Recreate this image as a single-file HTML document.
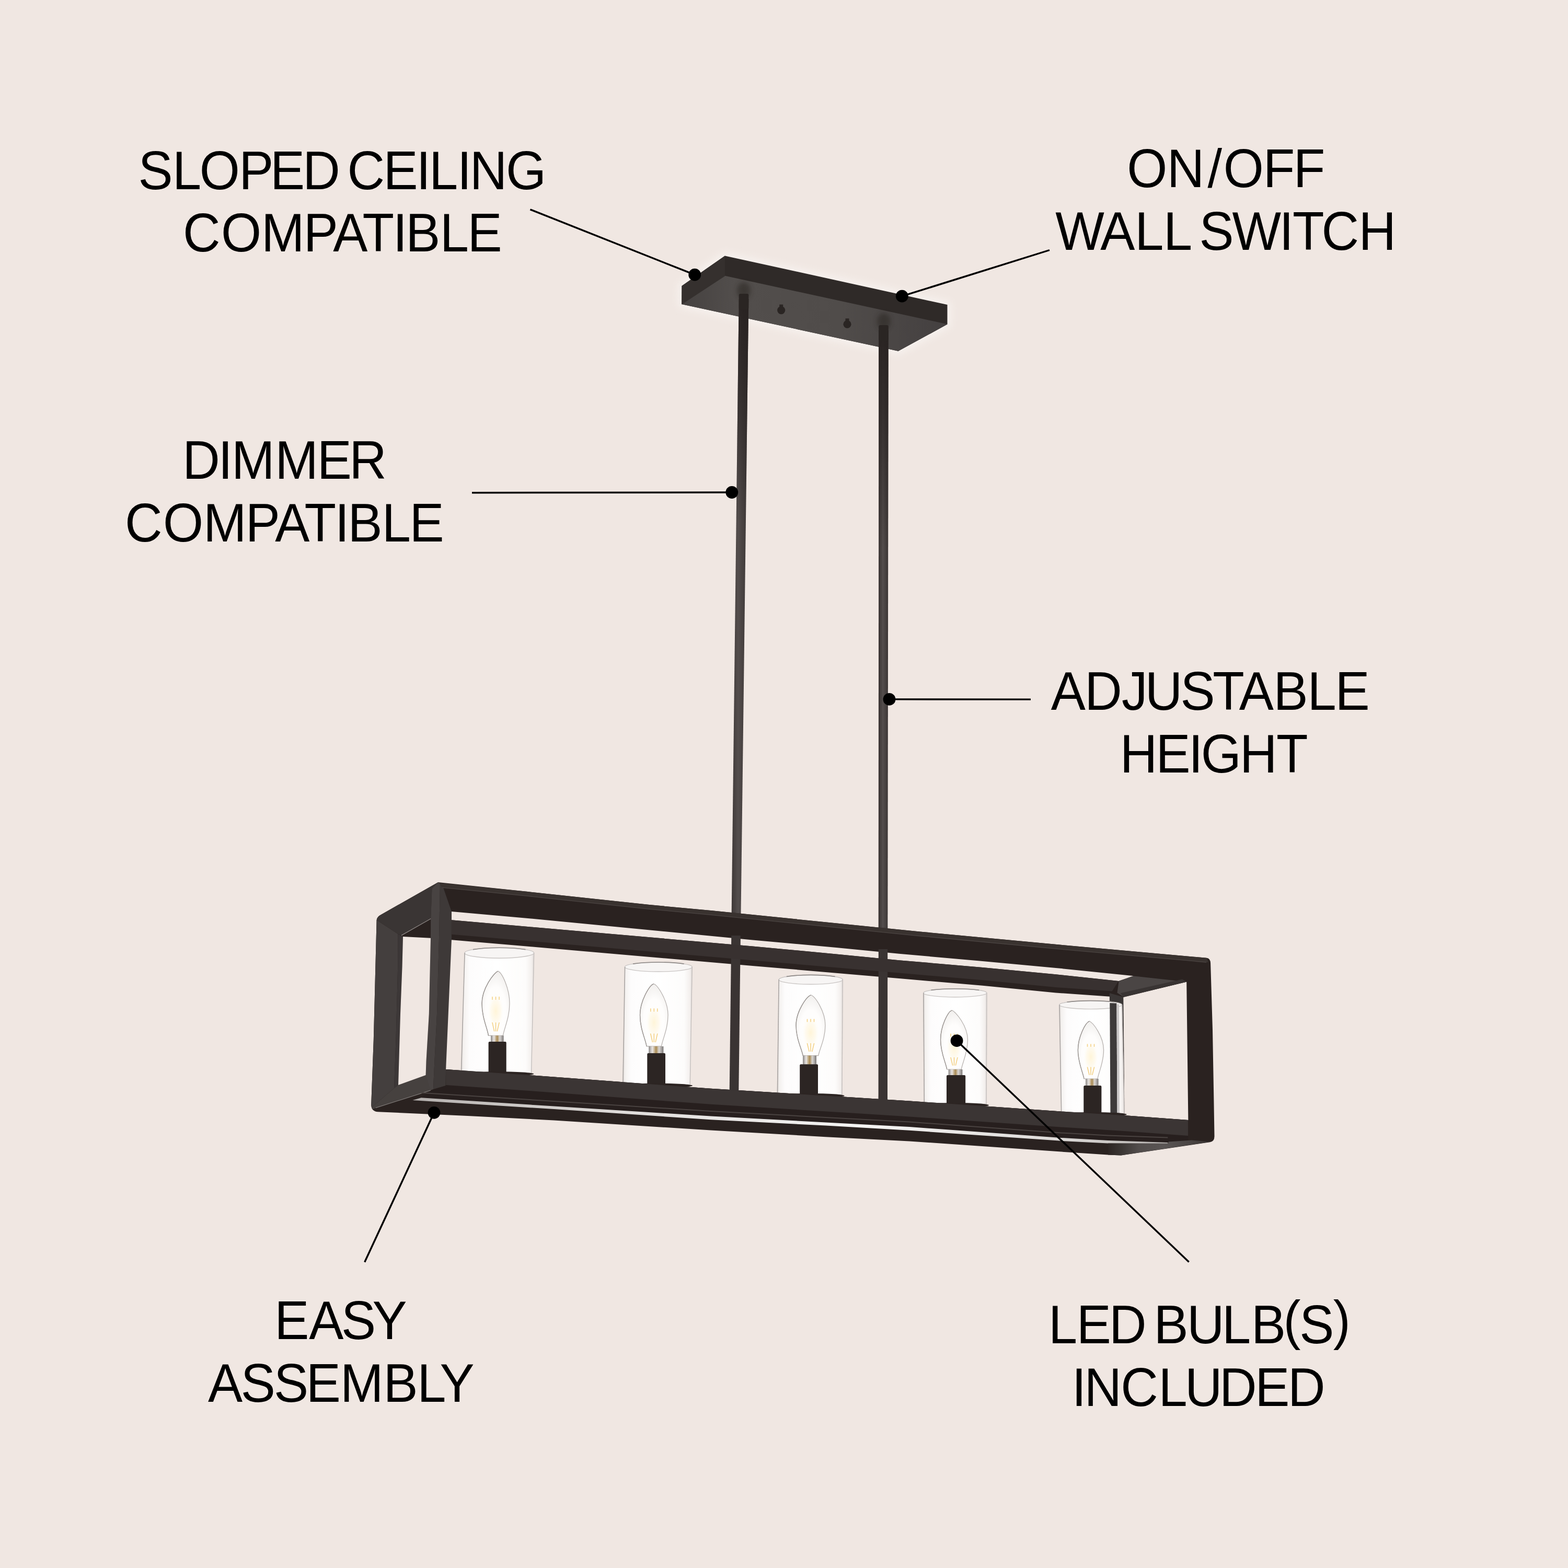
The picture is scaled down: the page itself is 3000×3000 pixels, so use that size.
<!DOCTYPE html>
<html lang="en">
<head>
<meta charset="utf-8">
<title>Linear chandelier features</title>
<style>
html,body{margin:0;padding:0;background:#f0e7e2;}
body{width:3000px;height:3000px;overflow:hidden;}
svg{display:block;}
</style>
</head>
<body>
<svg width="3000" height="3000" viewBox="0 0 3000 3000">
<defs>
<linearGradient id="gl" x1="0" y1="0" x2="1" y2="0">
<stop offset="0" stop-color="#dcd6d3"/><stop offset="0.035" stop-color="#f4f1ef"/><stop offset="0.12" stop-color="#fdfcfc"/>
<stop offset="0.5" stop-color="#ffffff"/><stop offset="0.88" stop-color="#fdfcfb"/><stop offset="0.965" stop-color="#f3efed"/><stop offset="1" stop-color="#dad4d1"/>
</linearGradient>
<radialGradient id="glow" cx="0.5" cy="0.62" r="0.62">
<stop offset="0" stop-color="#ffffff"/><stop offset="0.6" stop-color="#fefdfc"/><stop offset="1" stop-color="#f1efed"/>
</radialGradient>
<radialGradient id="warm" cx="0.5" cy="0.5" r="0.5">
<stop offset="0" stop-color="#fff4d6" stop-opacity="0.95"/><stop offset="0.55" stop-color="#fff7e3" stop-opacity="0.6"/><stop offset="1" stop-color="#ffffff" stop-opacity="0"/>
</radialGradient>
<linearGradient id="collar" x1="0" y1="0" x2="1" y2="0">
<stop offset="0" stop-color="#8c8886"/><stop offset="0.25" stop-color="#e9e6e4"/><stop offset="0.5" stop-color="#a98a52"/><stop offset="0.7" stop-color="#d9d6d4"/><stop offset="1" stop-color="#7d7977"/>
</linearGradient>
<linearGradient id="rod" x1="0" y1="0" x2="1" y2="0">
<stop offset="0" stop-color="#373130"/><stop offset="0.45" stop-color="#544e4d"/><stop offset="1" stop-color="#3a3433"/>
</linearGradient>
<linearGradient id="under" gradientUnits="userSpaceOnUse" x1="2120" y1="0" x2="2316" y2="0">
<stop offset="0" stop-color="#2c2523"/><stop offset="0.13" stop-color="#3b3634"/><stop offset="0.3" stop-color="#524d4c"/><stop offset="0.55" stop-color="#5a5554"/><stop offset="0.8" stop-color="#4a4544"/><stop offset="1" stop-color="#3a3533"/>
</linearGradient>
<linearGradient id="strip" gradientUnits="userSpaceOnUse" x1="790" y1="0" x2="2235" y2="0">
<stop offset="0" stop-color="#b3afad"/><stop offset="0.1" stop-color="#c6c2c0"/><stop offset="0.3" stop-color="#e2dfdd"/><stop offset="0.6" stop-color="#f5f4f3"/><stop offset="0.85" stop-color="#dedbd9"/><stop offset="1" stop-color="#b5b1af"/>
</linearGradient>
<linearGradient id="cunder" gradientUnits="userSpaceOnUse" x1="1304" y1="0" x2="1812" y2="0">
<stop offset="0" stop-color="#454140"/><stop offset="0.2" stop-color="#524e4c"/><stop offset="0.6" stop-color="#504c4a"/><stop offset="1" stop-color="#444040"/>
</linearGradient>
<filter id="halo" x="-20%" y="-50%" width="140%" height="200%"><feGaussianBlur stdDeviation="7"/></filter>
<filter id="soft" x="-50%" y="-50%" width="200%" height="200%"><feGaussianBlur stdDeviation="4"/></filter>
<linearGradient id="rodtop" gradientUnits="userSpaceOnUse" x1="0" y1="572" x2="0" y2="1000">
<stop offset="0" stop-color="#272120" stop-opacity="0.95"/><stop offset="0.35" stop-color="#272120" stop-opacity="0.7"/><stop offset="1" stop-color="#272120" stop-opacity="0"/>
</linearGradient>
<linearGradient id="rodtop2" gradientUnits="userSpaceOnUse" x1="0" y1="632" x2="0" y2="1050">
<stop offset="0" stop-color="#272120" stop-opacity="0.95"/><stop offset="0.35" stop-color="#272120" stop-opacity="0.7"/><stop offset="1" stop-color="#272120" stop-opacity="0"/>
</linearGradient>
</defs>
<rect x="0" y="0" width="3000" height="3000" fill="#f0e7e2"/>
<g id="canopy">
<polygon points="1304.5,547.0 1387.0,489.4 1812.5,583.1 1812.5,620.6 1718.6,671.8 1304.2,582.0" fill="#fbf8f6" stroke="#fbf8f6" stroke-width="14" stroke-linejoin="round" filter="url(#halo)" opacity="0.6"/>
<polygon points="1304.5,547.0 1387.0,489.4 1812.5,583.1 1812.5,620.6 1718.6,671.8 1304.2,582.0" fill="#2f2a28" />
<polygon points="1304.2,582.0 1386.3,527.5 1812.5,620.3 1718.6,671.8" fill="url(#cunder)" />
<polygon points="1304.5,547.0 1387.0,489.4 1387.0,528.2 1304.2,582.6" fill="#35302e" />
<ellipse cx="1423" cy="556" rx="13" ry="16" fill="#2b2624" opacity="0.55" filter="url(#soft)"/>
<ellipse cx="1691" cy="615" rx="13" ry="16" fill="#2b2624" opacity="0.55" filter="url(#soft)"/>
<rect x="1491.2" y="582.6" width="7" height="8" fill="#2b2624"/>
<circle cx="1494.7" cy="593.6" r="7.6" fill="#2a2523"/>
<rect x="1617.5" y="609.3" width="7" height="8" fill="#2b2624"/>
<circle cx="1621.0" cy="620.3" r="7.6" fill="#2a2523"/>
</g>
<g id="rods">
<polygon points="1413.7,572.0 1432.3,572.0 1413.2,2090.0 1395.6,2090.0" fill="url(#rod)" />
<polygon points="1681.3,632.0 1699.7,632.0 1698.0,2106.0 1680.6,2106.0" fill="url(#rod)" />
<polygon points="1413.7,572.0 1432.3,572.0 1426.9,1000.0 1408.7,1000.0" fill="url(#rodtop)" />
<polygon points="1681.3,632.0 1699.7,632.0 1699.1,1050.0 1681.1,1050.0" fill="url(#rodtop2)" />
<rect x="1413.7" y="562" width="18.6" height="30" rx="3" fill="#2a2523"/>
<rect x="1681.2" y="622" width="18.6" height="30" rx="3" fill="#2a2523"/>
</g>
<clipPath id="sil"><path d="M838.2,1687.9 L1010.0,1706.1 L1240.0,1730.8 L1360.0,1742.1 L1760.0,1782.5 L2030.0,1807.8 L2308.3,1832.7 Q2315.6,1833.3 2316.1,1842.6 L2320.0,1970 L2322.3,2100 L2323.5,2173.7 Q2323.8,2184 2314.9,2185.3 L2144.8,2210.6 L2144.8,2210.6 L2120.0,2209.4 L2030.0,2203.5 L1740.0,2183.5 L1580.0,2175.2 L1360.0,2162.5 L1060.0,2143.5 L900.0,2135.2 L723.1,2127.2 Q710.8,2126.5 710.2,2113.9 L714.8,1990 L720.6,1760.3 Q721,1754 729.8,1749.5 Z"/></clipPath>
<path d="M838.2,1687.9 L1010.0,1706.1 L1240.0,1730.8 L1360.0,1742.1 L1760.0,1782.5 L2030.0,1807.8 L2308.3,1832.7 Q2315.6,1833.3 2316.1,1842.6 L2320.0,1970 L2322.3,2100 L2323.5,2173.7 Q2323.8,2184 2314.9,2185.3 L2144.8,2210.6 L2144.8,2210.6 L2120.0,2209.4 L2030.0,2203.5 L1740.0,2183.5 L1580.0,2175.2 L1360.0,2162.5 L1060.0,2143.5 L900.0,2135.2 L723.1,2127.2 Q710.8,2126.5 710.2,2113.9 L714.8,1990 L720.6,1760.3 Q721,1754 729.8,1749.5 Z" fill="#2a2220"/>
<g clip-path="url(#sil)">
<polygon points="700.0,1760.3 720.6,1760.3 761.5,1787.0 761.2,1850.0 757.5,1990.0 754.0,2082.0 712.0,2118.0 700.0,2130.0" fill="#443f3e" />
<polygon points="761.5,1787.0 771.0,1791.9 769.5,1850.0 766.0,1940.0 762.0,2076.1 754.0,2082.0 757.5,1990.0 761.2,1850.0" fill="#3c3737" />
<polygon points="715.0,1757.0 729.8,1749.5 838.2,1687.9 826.5,1700.0 824.2,1757.8 768.0,1789.6 761.5,1787.0 720.6,1760.3" fill="#3a3534" />
<polygon points="700.0,2130.0 712.0,2118.0 754.0,2082.0 762.0,2076.1 814.6,2057.0 824.0,2070.0 823.9,2085.9 718.6,2119.4 705.0,2128.0" fill="#46413f" />
<line x1="718.6" y1="2119.6" x2="823.9" y2="2086.1" stroke="#7d7876" stroke-width="1.2"/>
<polygon points="838.2,1687.9 842.0,1690.0 840.0,1795.0 836.0,1940.0 830.4,2051.0 829.0,2084.0 823.9,2085.9 814.6,2057.0 815.5,2030.0 820.8,1940.0 824.0,1794.8 824.2,1757.8 826.5,1700.0" fill="#484342" />
<polygon points="842.0,1690.0 848.0,1698.0 863.9,1744.0 863.9,1798.3 858.9,1990.0 853.0,2046.0 852.8,2077.0 829.0,2084.0 830.4,2051.0 836.0,1940.0 840.0,1795.0" fill="#3e3938" />
<line x1="768" y1="1789.6" x2="824.2" y2="1757.8" stroke="#8d8785" stroke-width="1.3"/>
</g>
<polygon points="771.0,1791.9 824.0,1794.8 820.8,1940.0 815.5,2030.0 814.6,2057.0 762.0,2076.1 766.0,1940.0 769.5,1850.0" fill="#f0e7e2" />
<polygon points="864.0,1744.0 1010.0,1756.9 1440.0,1798.5 1600.0,1813.0 1720.0,1824.8 1880.0,1838.9 2020.0,1851.9 2169.0,1867.2 2140.1,1877.1 2020.0,1864.3 1880.0,1850.9 1720.0,1837.2 1600.0,1825.4 1440.0,1810.5 1010.0,1773.0 864.0,1760.2" fill="#f0e7e2" />
<polygon points="863.9,1798.3 1010.0,1810.7 1440.0,1848.0 1720.0,1872.0 1880.0,1885.7 2020.0,1899.5 2127.7,1907.0 2149.3,1908.0 2270.2,1878.4 2273.4,2142.8 2273.2,2143.1 2157.3,2134.4 2030.0,2126.5 1740.0,2106.4 1629.7,2099.4 1360.0,2082.8 1016.0,2057.3 853.1,2046.0" fill="#f0e7e2" />
<polygon points="2122.8,1900.0 2149.3,1907.5 2151.5,2136.0 2124.5,2134.0" fill="#3a3635" />
<g>
<path d="M888.3,1823.2 A67.0,10.0 0 0 1 1022.3,1823.2 L1017.2,2058.0 L881.7,2052.0 Z" fill="url(#gl)"/>
<ellipse cx="955.3" cy="1823.2" rx="66.3" ry="10.0" fill="#f7f5f4" stroke="#c9c5c3" stroke-width="1.4"/>
<path d="M905.0,1816.6 A67.0,10.0 0 0 1 1005.5,1816.6" fill="none" stroke="#8f8a88" stroke-width="1.6"/>
<line x1="889.1" y1="1823.2" x2="882.5" y2="2052.0" stroke="#a9a4a2" stroke-width="1.6"/>
<line x1="1021.6" y1="1823.2" x2="1016.5" y2="2058.0" stroke="#c4bfbd" stroke-width="1.4"/>
<path d="M952.8,1858.1 C944.8,1861.2 922.0,1891.4 922.0,1919.7 C922.0,1946.8 932.1,1966.5 934.5,1981.3 L962.5,1981.3 C964.9,1966.5 975.0,1946.8 975.0,1919.7 C975.0,1891.4 960.8,1861.2 952.8,1858.1 Z" fill="url(#glow)" stroke="#b3aeab" stroke-width="1.2"/>
<path d="M952.8,1858.1 C944.8,1861.2 922.0,1891.4 922.0,1919.7 C922.0,1946.8 932.1,1966.5 934.5,1981.3" fill="none" stroke="#9a9592" stroke-width="1.3"/>
<ellipse cx="948.5" cy="1934.5" rx="16.4" ry="37.0" fill="url(#warm)"/>
<g stroke="#f3cf80" stroke-width="1.5" stroke-linecap="round" fill="none">
<line x1="942.0" y1="1907.4" x2="942.0" y2="1912.3"/>
<line x1="942.0" y1="1956.7" x2="945.6" y2="1972.7"/>
<line x1="948.5" y1="1907.4" x2="948.5" y2="1912.3"/>
<line x1="948.5" y1="1956.7" x2="948.5" y2="1972.7"/>
<line x1="955.0" y1="1907.4" x2="955.0" y2="1912.3"/>
<line x1="955.0" y1="1956.7" x2="951.4" y2="1972.7"/>
</g>
<rect x="939.0" y="1981.3" width="24.6" height="12.2" fill="url(#collar)"/>
<rect x="934.6" y="1993.0" width="34.1" height="63.0" rx="2" fill="#2c2523"/>
</g>
<g>
<path d="M1194.8,1850.0 A65.1,9.0 0 0 1 1324.9,1850.0 L1320.9,2078.0 L1191.2,2071.0 Z" fill="url(#gl)"/>
<ellipse cx="1259.8" cy="1850.0" rx="64.4" ry="9.0" fill="#f7f5f4" stroke="#c9c5c3" stroke-width="1.4"/>
<path d="M1211.1,1844.1 A65.1,9.0 0 0 1 1308.6,1844.1" fill="none" stroke="#8f8a88" stroke-width="1.6"/>
<line x1="1195.6" y1="1850.0" x2="1192.0" y2="2071.0" stroke="#a9a4a2" stroke-width="1.6"/>
<line x1="1324.2" y1="1850.0" x2="1320.2" y2="2078.0" stroke="#c4bfbd" stroke-width="1.4"/>
<path d="M1250.6,1882.3 C1242.6,1885.3 1224.5,1914.6 1224.5,1942.1 C1224.5,1968.4 1234.7,1987.5 1237.1,2001.9 L1265.5,2001.9 C1267.9,1987.5 1278.1,1968.4 1278.1,1942.1 C1278.1,1914.6 1258.6,1885.3 1250.6,1882.3 Z" fill="url(#glow)" stroke="#b3aeab" stroke-width="1.2"/>
<path d="M1250.6,1882.3 C1242.6,1885.3 1224.5,1914.6 1224.5,1942.1 C1224.5,1968.4 1234.7,1987.5 1237.1,2001.9" fill="none" stroke="#9a9592" stroke-width="1.3"/>
<ellipse cx="1251.3" cy="1956.5" rx="16.6" ry="35.9" fill="url(#warm)"/>
<g stroke="#f3cf80" stroke-width="1.5" stroke-linecap="round" fill="none">
<line x1="1244.8" y1="1930.1" x2="1244.8" y2="1934.9"/>
<line x1="1244.8" y1="1978.0" x2="1248.4" y2="1993.5"/>
<line x1="1251.3" y1="1930.1" x2="1251.3" y2="1934.9"/>
<line x1="1251.3" y1="1978.0" x2="1251.3" y2="1993.5"/>
<line x1="1257.8" y1="1930.1" x2="1257.8" y2="1934.9"/>
<line x1="1257.8" y1="1978.0" x2="1254.2" y2="1993.5"/>
</g>
<rect x="1241.2" y="2001.9" width="28.2" height="13.5" fill="url(#collar)"/>
<rect x="1238.3" y="2014.9" width="34.7" height="61.1" rx="2" fill="#2c2523"/>
</g>
<g>
<path d="M1489.4,1874.3 A61.8,9.0 0 0 1 1613.0,1874.3 L1611.6,2096.0 L1486.7,2090.0 Z" fill="url(#gl)"/>
<ellipse cx="1551.2" cy="1874.3" rx="61.1" ry="9.0" fill="#f7f5f4" stroke="#c9c5c3" stroke-width="1.4"/>
<path d="M1504.9,1868.4 A61.8,9.0 0 0 1 1597.5,1868.4" fill="none" stroke="#8f8a88" stroke-width="1.6"/>
<line x1="1490.2" y1="1874.3" x2="1487.5" y2="2090.0" stroke="#a9a4a2" stroke-width="1.6"/>
<line x1="1612.3" y1="1874.3" x2="1610.9" y2="2096.0" stroke="#c4bfbd" stroke-width="1.4"/>
<path d="M1551.5,1903.8 C1543.1,1906.7 1523.0,1935.1 1523.0,1961.8 C1523.0,1987.2 1533.6,2005.8 1536.2,2019.7 L1565.8,2019.7 C1568.4,2005.8 1579.0,1987.2 1579.0,1961.8 C1579.0,1935.1 1559.9,1906.7 1551.5,1903.8 Z" fill="url(#glow)" stroke="#b3aeab" stroke-width="1.2"/>
<path d="M1551.5,1903.8 C1543.1,1906.7 1523.0,1935.1 1523.0,1961.8 C1523.0,1987.2 1533.6,2005.8 1536.2,2019.7" fill="none" stroke="#9a9592" stroke-width="1.3"/>
<ellipse cx="1551.0" cy="1975.7" rx="17.4" ry="34.8" fill="url(#warm)"/>
<g stroke="#f3cf80" stroke-width="1.5" stroke-linecap="round" fill="none">
<line x1="1544.5" y1="1950.2" x2="1544.5" y2="1954.8"/>
<line x1="1544.5" y1="1996.5" x2="1548.1" y2="2011.6"/>
<line x1="1551.0" y1="1950.2" x2="1551.0" y2="1954.8"/>
<line x1="1551.0" y1="1996.5" x2="1551.0" y2="2011.6"/>
<line x1="1557.5" y1="1950.2" x2="1557.5" y2="1954.8"/>
<line x1="1557.5" y1="1996.5" x2="1553.9" y2="2011.6"/>
</g>
<rect x="1536.0" y="2019.7" width="26.0" height="17.0" fill="url(#collar)"/>
<rect x="1530.2" y="2036.2" width="34.8" height="57.8" rx="2" fill="#2c2523"/>
</g>
<g>
<path d="M1766.1,1899.7 A61.2,8.0 0 0 1 1888.6,1899.7 L1887.8,2117.0 L1767.5,2111.0 Z" fill="url(#gl)"/>
<ellipse cx="1827.3" cy="1899.7" rx="60.5" ry="8.0" fill="#f7f5f4" stroke="#c9c5c3" stroke-width="1.4"/>
<path d="M1781.4,1894.4 A61.2,8.0 0 0 1 1873.3,1894.4" fill="none" stroke="#8f8a88" stroke-width="1.6"/>
<line x1="1766.9" y1="1899.7" x2="1768.3" y2="2111.0" stroke="#a9a4a2" stroke-width="1.6"/>
<line x1="1887.9" y1="1899.7" x2="1887.1" y2="2117.0" stroke="#c4bfbd" stroke-width="1.4"/>
<path d="M1821.2,1933.0 C1813.4,1935.8 1799.5,1963.5 1799.5,1989.5 C1799.5,2014.4 1809.4,2032.4 1811.7,2046.0 L1839.3,2046.0 C1841.6,2032.4 1851.5,2014.4 1851.5,1989.5 C1851.5,1963.5 1829.0,1935.8 1821.2,1933.0 Z" fill="url(#glow)" stroke="#b3aeab" stroke-width="1.2"/>
<path d="M1821.2,1933.0 C1813.4,1935.8 1799.5,1963.5 1799.5,1989.5 C1799.5,2014.4 1809.4,2032.4 1811.7,2046.0" fill="none" stroke="#9a9592" stroke-width="1.3"/>
<ellipse cx="1825.5" cy="2003.1" rx="16.1" ry="33.9" fill="url(#warm)"/>
<g stroke="#f3cf80" stroke-width="1.5" stroke-linecap="round" fill="none">
<line x1="1819.0" y1="1978.2" x2="1819.0" y2="1982.7"/>
<line x1="1819.0" y1="2023.4" x2="1822.6" y2="2038.1"/>
<line x1="1825.5" y1="1978.2" x2="1825.5" y2="1982.7"/>
<line x1="1825.5" y1="2023.4" x2="1825.5" y2="2038.1"/>
<line x1="1832.0" y1="1978.2" x2="1832.0" y2="1982.7"/>
<line x1="1832.0" y1="2023.4" x2="1828.4" y2="2038.1"/>
</g>
<rect x="1814.6" y="2046.0" width="26.8" height="11.5" fill="url(#collar)"/>
<rect x="1811.0" y="2057.0" width="36.2" height="57.0" rx="2" fill="#2c2523"/>
</g>
<g>
<path d="M2026.2,1922.6 A60.5,8.0 0 0 1 2147.2,1922.6 L2151.6,2136.0 L2029.9,2130.0 Z" fill="url(#gl)"/>
<ellipse cx="2086.7" cy="1922.6" rx="59.8" ry="8.0" fill="#f7f5f4" stroke="#c9c5c3" stroke-width="1.4"/>
<path d="M2041.3,1917.3 A60.5,8.0 0 0 1 2132.1,1917.3" fill="none" stroke="#8f8a88" stroke-width="1.6"/>
<line x1="2027.0" y1="1922.6" x2="2030.7" y2="2130.0" stroke="#a9a4a2" stroke-width="1.6"/>
<line x1="2146.5" y1="1922.6" x2="2150.9" y2="2136.0" stroke="#c4bfbd" stroke-width="1.4"/>
<path d="M2084.2,1953.8 C2076.8,1956.6 2062.4,1983.6 2062.4,2008.9 C2062.4,2033.1 2071.7,2050.8 2074.0,2064.0 L2100.0,2064.0 C2102.3,2050.8 2111.6,2033.1 2111.6,2008.9 C2111.6,1983.6 2091.6,1956.6 2084.2,1953.8 Z" fill="url(#glow)" stroke="#b3aeab" stroke-width="1.2"/>
<path d="M2084.2,1953.8 C2076.8,1956.6 2062.4,1983.6 2062.4,2008.9 C2062.4,2033.1 2071.7,2050.8 2074.0,2064.0" fill="none" stroke="#9a9592" stroke-width="1.3"/>
<ellipse cx="2087.0" cy="2022.1" rx="15.3" ry="33.1" fill="url(#warm)"/>
<g stroke="#f3cf80" stroke-width="1.5" stroke-linecap="round" fill="none">
<line x1="2080.5" y1="1997.9" x2="2080.5" y2="2002.3"/>
<line x1="2080.5" y1="2042.0" x2="2084.1" y2="2056.3"/>
<line x1="2087.0" y1="1997.9" x2="2087.0" y2="2002.3"/>
<line x1="2087.0" y1="2042.0" x2="2087.0" y2="2056.3"/>
<line x1="2093.5" y1="1997.9" x2="2093.5" y2="2002.3"/>
<line x1="2093.5" y1="2042.0" x2="2089.9" y2="2056.3"/>
</g>
<rect x="2077.0" y="2064.0" width="24.6" height="13.5" fill="url(#collar)"/>
<rect x="2073.3" y="2077.0" width="34.1" height="57.0" rx="2" fill="#2c2523"/>
</g>
<polygon points="2123.3,1919.0 2136.4,1919.5 2137.5,2130.0 2124.5,2129.0" fill="#3d3a3a" />
<polygon points="2136.4,1921.0 2141.0,1921.5 2142.0,2130.0 2137.5,2130.0" fill="#c9c6c6" />
<ellipse cx="949.5" cy="2054.7" rx="71.8" ry="4.5" fill="#2c2422"/>
<ellipse cx="1256.1" cy="2077.1" rx="68.9" ry="4.5" fill="#2c2422"/>
<ellipse cx="1549.2" cy="2096.4" rx="66.4" ry="4.5" fill="#2c2422"/>
<ellipse cx="1827.7" cy="2114.5" rx="64.1" ry="4.5" fill="#2c2422"/>
<ellipse cx="2090.8" cy="2132.3" rx="64.8" ry="4.5" fill="#2c2422"/>
<polygon points="853.1,2046.0 1016.0,2057.3 1360.0,2082.8 1629.7,2099.4 1740.0,2106.4 2030.0,2126.5 2157.3,2134.4 2273.2,2143.1 2273.2,2182.0 2234.3,2186.0 2120.0,2182.0 2030.0,2177.0 1740.0,2156.1 1580.0,2147.4 1360.0,2135.6 1060.0,2116.5 900.0,2106.2 805.9,2100.3 823.9,2086.8 829.0,2084.6 852.8,2077.6" fill="#271f1e" />
<polygon points="853.1,2046.0 1016.0,2057.3 1360.0,2082.8 1629.7,2099.4 1740.0,2106.4 2030.0,2126.5 2157.3,2134.4 2273.2,2143.1 2273.2,2173.1 2157.3,2164.4 2030.0,2156.5 1740.0,2136.4 1629.7,2129.4 1360.0,2112.8 1016.0,2087.3 853.1,2076.0" fill="#3b3534" />
<polyline points="805.9,2090.8 900.0,2096.7 1060.0,2107.0 1360.0,2126.1 1580.0,2137.9 1740.0,2146.6 2030.0,2167.5 2120.0,2172.5 2234.3,2176.5" fill="none" stroke="#4a4341" stroke-width="2"/>
<polygon points="1399.3,1790.0 1416.9,1790.0 1413.3,2088.0 1395.7,2088.0" fill="#3a3433" />
<polygon points="1680.8,1816.0 1698.2,1816.0 1698.0,2104.0 1680.6,2104.0" fill="#3a3433" />
<polygon points="805.9,2100.3 900.0,2106.2 1060.0,2116.5 1360.0,2135.6 1580.0,2147.4 1740.0,2156.1 2030.0,2177.0 2120.0,2182.0 2234.3,2186.0 2234.3,2188.2 2120.0,2187.4 2030.0,2182.8 1740.0,2162.8 1580.0,2153.6 1360.0,2142.3 1060.0,2122.0 900.0,2112.0 789.4,2105.0" fill="url(#strip)" />
<polygon points="840.0,1689.2 1010.0,1706.1 1240.0,1730.8 1360.0,1742.1 1760.0,1782.5 2030.0,1807.8 2308.3,1832.7 2312.0,1841.0 2307.0,1841.2 2030.0,1816.3 1760.0,1791.0 1360.0,1750.6 1240.0,1739.3 1010.0,1714.6 846.0,1698.5" fill="#39322f" />
<polyline points="846.0,1698.2 1010.0,1714.4 1240.0,1739.1 1360.0,1750.4 1760.0,1790.8 2030.0,1816.1 2308.0,1841.0" fill="none" stroke="#4b4442" stroke-width="1.3"/>
<polygon points="864.0,1760.2 1010.0,1773.0 1440.0,1810.5 1600.0,1825.4 1720.0,1837.2 1880.0,1850.9 2020.0,1864.3 2140.1,1877.1 2127.7,1896.5 2020.0,1889.0 1880.0,1875.2 1720.0,1861.5 1440.0,1837.5 1010.0,1800.2 863.9,1787.8" fill="#383130" />
<polygon points="2120.0,2187.4 2234.3,2187.6 2236.0,2184.5 2280.0,2181.5 2316.0,2184.6 2144.8,2210.6 2120.0,2209.4" fill="url(#under)" />
<polygon points="2167.7,1867.2 2270.2,1878.4 2149.7,1907.3 2137.5,1899.5 2140.6,1877.6" fill="#4a4544" />
<polygon points="2149.7,1907.6 2270.2,1878.6 2262.0,1873.4 2143.5,1900.2" fill="#393433" />
<g stroke="#000" stroke-width="3.4" fill="none">
<line x1="1014.4" y1="400.8" x2="1329.2" y2="525.7"/>
<line x1="2008.0" y1="478.5" x2="1725.8" y2="566.7"/>
<line x1="903.0" y1="942.7" x2="1400.3" y2="942.0"/>
<line x1="1972.0" y1="1338.1" x2="1701.5" y2="1337.9"/>
<line x1="697.7" y1="2414.8" x2="830.5" y2="2128.8"/>
<line x1="2274.7" y1="2414.4" x2="1830.6" y2="1991.2"/>
</g>
<g fill="#000">
<circle cx="1329.2" cy="525.7" r="11.9"/>
<circle cx="1725.8" cy="566.7" r="11.9"/>
<circle cx="1400.3" cy="942.0" r="11.9"/>
<circle cx="1701.5" cy="1337.9" r="11.9"/>
<circle cx="830.5" cy="2128.8" r="11.9"/>
<circle cx="1830.6" cy="1991.2" r="11.9"/>
</g>
<g font-family="'Liberation Sans', Arial, Helvetica, sans-serif" font-size="103.7" fill="#000" style="font-kerning:none">
<text transform="scale(0.956 1)" x="276.6 345.1 399.2 478.2 540.7 606.0 680.9 695.1 767.2 833.2 858.7 915.1 940.2 1012.5" y="362.0">SLOPED CEILING</text>
<text transform="scale(0.956 1)" x="366.0 442.4 522.9 607.6 666.5 725.4 786.4 812.1 880.5 935.6" y="481.2">COMPATIBLE</text>
<text transform="scale(0.956 1)" x="365.2 436.7 463.3 550.5 634.8 698.9" y="916.1">DIMMER</text>
<text transform="scale(0.956 1)" x="249.9 326.3 406.8 491.5 550.4 609.3 670.3 696.0 764.3 819.5" y="1036.1">COMPATIBLE</text>
<text transform="scale(0.956 1)" x="2255.6 2335.6 2416.8 2448.4 2528.1 2588.7" y="358.2">ON/OFF</text>
<text transform="scale(0.956 1)" x="2112.2 2202.2 2271.1 2328.4 2386.0 2400.1 2465.9 2560.1 2586.7 2644.8 2719.1" y="478.2">WALL SWITCH</text>
<text transform="scale(0.956 1)" x="2103.4 2170.7 2244.9 2291.7 2362.5 2427.1 2479.8 2548.7 2616.7 2672.0" y="1358.2">ADJUSTABLE</text>
<text transform="scale(0.956 1)" x="2241.5 2313.4 2378.6 2403.5 2481.1 2554.5" y="1478.2">HEIGHT</text>
<text transform="scale(0.956 1)" x="549.4 618.4 683.0 745.4" y="2562.1">EASY</text>
<text transform="scale(0.956 1)" x="416.2 482.0 548.0 612.7 680.9 767.2 835.1 880.2" y="2682.1">ASSEMBLY</text>
<text transform="scale(0.956 1)" x="2098.4 2154.6 2219.7 2294.6 2309.2 2375.6 2445.5 2504.3 2568.4 2600.8 2668.2" y="2569.8" dy="0 0 0 0 0 0 0 0 -8.5 8.5 -8.5">LED BULB(S)</text>
<text transform="scale(0.956 1)" x="2145.1 2170.1 2242.9 2318.4 2371.4 2440.5 2511.9 2577.5" y="2689.8">INCLUDED</text>
</g>
</svg>
</body>
</html>
